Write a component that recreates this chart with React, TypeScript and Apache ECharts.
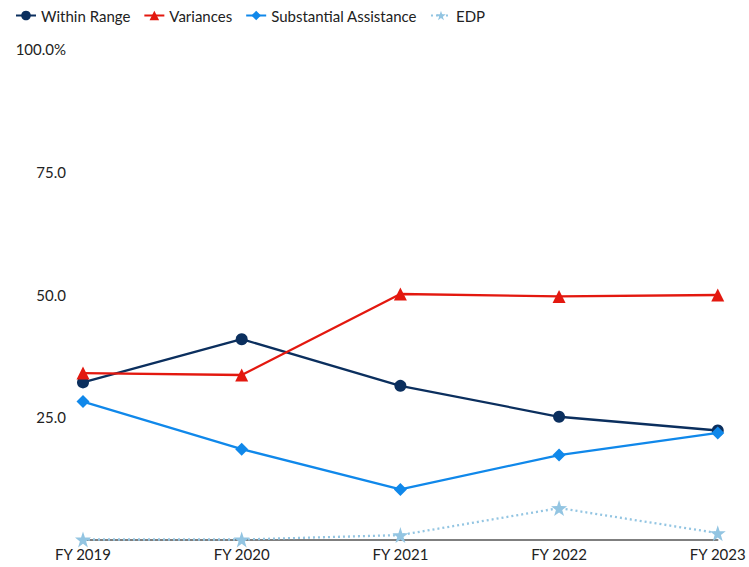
import React, { useEffect, useRef } from "react";
import * as echarts from "echarts";

const categories = ["FY 2019", "FY 2020", "FY 2021", "FY 2022", "FY 2023"];
const withinRange = [32.1, 40.9, 31.4, 25.1, 22.3];
const variances = [34.0, 33.6, 50.1, 49.6, 49.9];
const substantialAssistance = [28.2, 18.5, 10.3, 17.3, 21.8];
const edp = [0.1, 0.1, 1.0, 6.5, 1.4];

export default function App() {
  const ref = useRef<HTMLDivElement>(null);
  useEffect(() => {
    if (!ref.current) return;
    const chart = echarts.init(ref.current, null, { renderer: "svg" });
    const font = "Lato, 'Noto Sans', sans-serif";
    chart.setOption({
      animation: false,
      textStyle: { fontFamily: font },
      legend: {
        left: 10,
        top: 3,
        itemWidth: 20,
        itemHeight: 12,
        itemGap: 13,
        textStyle: { fontSize: 15, color: "#222", fontFamily: font },
      },
      grid: { left: 83, right: 30, top: 49, bottom: 27, containLabel: false },
      xAxis: {
        type: "category",
        data: categories,
        boundaryGap: false,
        axisLine: { lineStyle: { color: "#555", width: 1.5 } },
        axisTick: { show: false },
        axisLabel: { fontSize: 15, color: "#222", margin: 6, fontFamily: font },
      },
      yAxis: {
        type: "value",
        min: 0,
        max: 100,
        interval: 25,
        splitLine: { show: false },
        axisLine: { show: false },
        axisTick: { show: false },
        axisLabel: {
          fontSize: 15,
          color: "#222",
          margin: 17,
          fontFamily: font,
          formatter: (v: number) => (v === 0 ? "" : v === 100 ? "100.0%" : v.toFixed(1)),
        },
      },
      series: [
        {
          name: "Within Range",
          type: "line",
          data: withinRange,
          symbol: "circle",
          symbolSize: 12,
          color: "#0b2f5e",
          lineStyle: { width: 2.3, color: "#0b2f5e" },
        },
        {
          name: "Variances",
          type: "line",
          data: variances,
          symbol: "triangle",
          symbolSize: 13,
          color: "#e3180f",
          lineStyle: { width: 2.3, color: "#e3180f" },
        },
        {
          name: "Substantial Assistance",
          type: "line",
          data: substantialAssistance,
          symbol: "diamond",
          symbolSize: 13,
          color: "#1088ea",
          lineStyle: { width: 2.3, color: "#1088ea" },
        },
        {
          name: "EDP",
          type: "line",
          data: edp,
          symbol: "path://M50,0 L61.8,35.1 L98.9,35.5 L69.1,57.6 L80.3,93 L50,71.5 L19.7,93 L30.9,57.6 L1.1,35.5 L38.2,35.1 Z",
          symbolSize: 16,
          color: "#93c5e2",
          lineStyle: { width: 2.3, color: "#93c5e2", type: [2, 3] },
        },
      ],
    });
    return () => chart.dispose();
  }, []);
  return (
    <div
      ref={ref}
      style={{ position: "absolute", left: 0, top: 0, width: 749, height: 567 }}
    />
  );
}
